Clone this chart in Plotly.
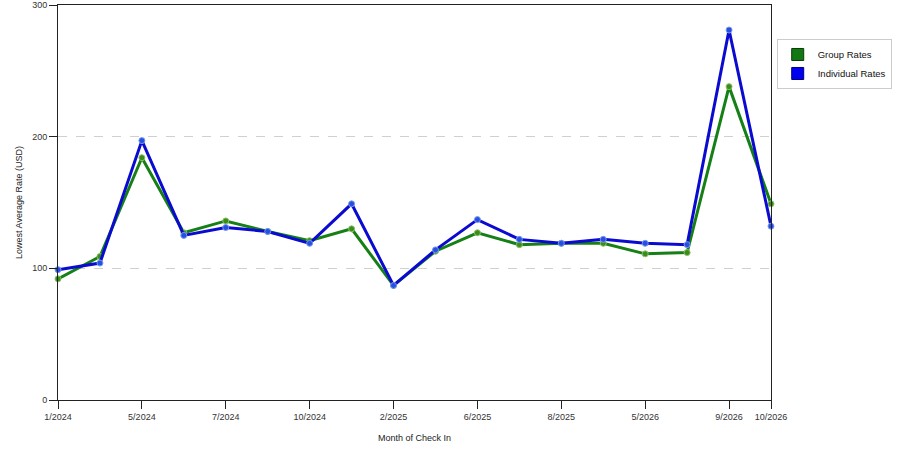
import plotly.graph_objects as go

months = ["1/2024", "3/2024", "5/2024", "6/2024", "7/2024", "8/2024", "10/2024", "12/2024",
          "2/2025", "4/2025", "6/2025", "7/2025", "8/2025", "10/2025", "5/2026", "7/2026",
          "9/2026", "10/2026"]
tick_labels = ["1/2024", "5/2024", "7/2024", "10/2024", "2/2025", "6/2025", "8/2025",
               "5/2026", "9/2026", "10/2026"]
group_rates = [92, 109, 184, 127, 136, 128, 121, 130, 87, 113, 127, 118, 119, 119, 111, 112, 238, 149]
individual_rates = [99, 104, 197, 125, 131, 128, 119, 149, 87, 114, 137, 122, 119, 122, 119, 118, 281, 132]

green_line = "#168016"
green_marker = "#3c8c1c"
blue_line = "#0a0ad0"
blue_marker = "#2550e0"

fig = go.Figure()
fig.add_trace(go.Scatter(
    x=months, y=group_rates, mode="lines+markers", name="Group Rates", showlegend=False,
    line=dict(color=green_line, width=3), cliponaxis=False,
    marker=dict(size=6, color=green_marker, line=dict(color="#8ac06a", width=1)),
))
fig.add_trace(go.Scatter(
    x=months, y=individual_rates, mode="lines+markers", name="Individual Rates", showlegend=False,
    line=dict(color=blue_line, width=3), cliponaxis=False,
    marker=dict(size=6, color=blue_marker, line=dict(color="#7a9af0", width=1)),
))
# legend swatches
fig.add_trace(go.Scatter(x=[None], y=[None], mode="markers", name="Group Rates",
                         marker=dict(symbol="square", size=12, color="#137813",
                                     line=dict(color="#0a3a0a", width=1))))
fig.add_trace(go.Scatter(x=[None], y=[None], mode="markers", name="Individual Rates",
                         marker=dict(symbol="square", size=12, color="#0000f0",
                                     line=dict(color="#00007a", width=1))))

font_family = "Liberation Sans"
fig.update_layout(
    width=900, height=450,
    margin=dict(l=58, r=129, t=5, b=50),
    paper_bgcolor="white", plot_bgcolor="white",
    font=dict(family=font_family, size=9, color="#222"),
    showlegend=True,
    legend=dict(x=1.008, y=0.914, xanchor="left", yanchor="top",
                bordercolor="#cccccc", borderwidth=1, bgcolor="white",
                font=dict(family=font_family, size=9.5, color="#111"),
                itemwidth=30),
    xaxis=dict(
        type="category", categoryorder="array", categoryarray=months,
        range=[0, len(months) - 1], automargin=False,
        tickmode="array", tickvals=tick_labels, ticktext=tick_labels,
        ticks="outside", ticklen=8, tickcolor="#222",
        showline=True, linecolor="#222", linewidth=1, mirror=True,
        showgrid=False, zeroline=False,
        title=dict(text="Month of Check In", font=dict(size=9, color="#222"), standoff=13),
        tickfont=dict(size=9, color="#333"),
    ),
    yaxis=dict(
        range=[0, 300], tickvals=[0, 100, 200, 300], automargin=False,
        ticks="outside", ticklen=8, tickcolor="#222",
        showline=True, linecolor="#222", linewidth=1, mirror=True,
        showgrid=True, gridcolor="#d0d0d0", griddash="dash", gridwidth=1,
        zeroline=False,
        title=dict(text="Lowest Average Rate (USD)", font=dict(size=9, color="#222"), standoff=8),
        tickfont=dict(size=9, color="#333"),
    ),
)

fig.write_html("out.html", config={"displayModeBar": False},
               post_script="document.body.style.margin='0';")
